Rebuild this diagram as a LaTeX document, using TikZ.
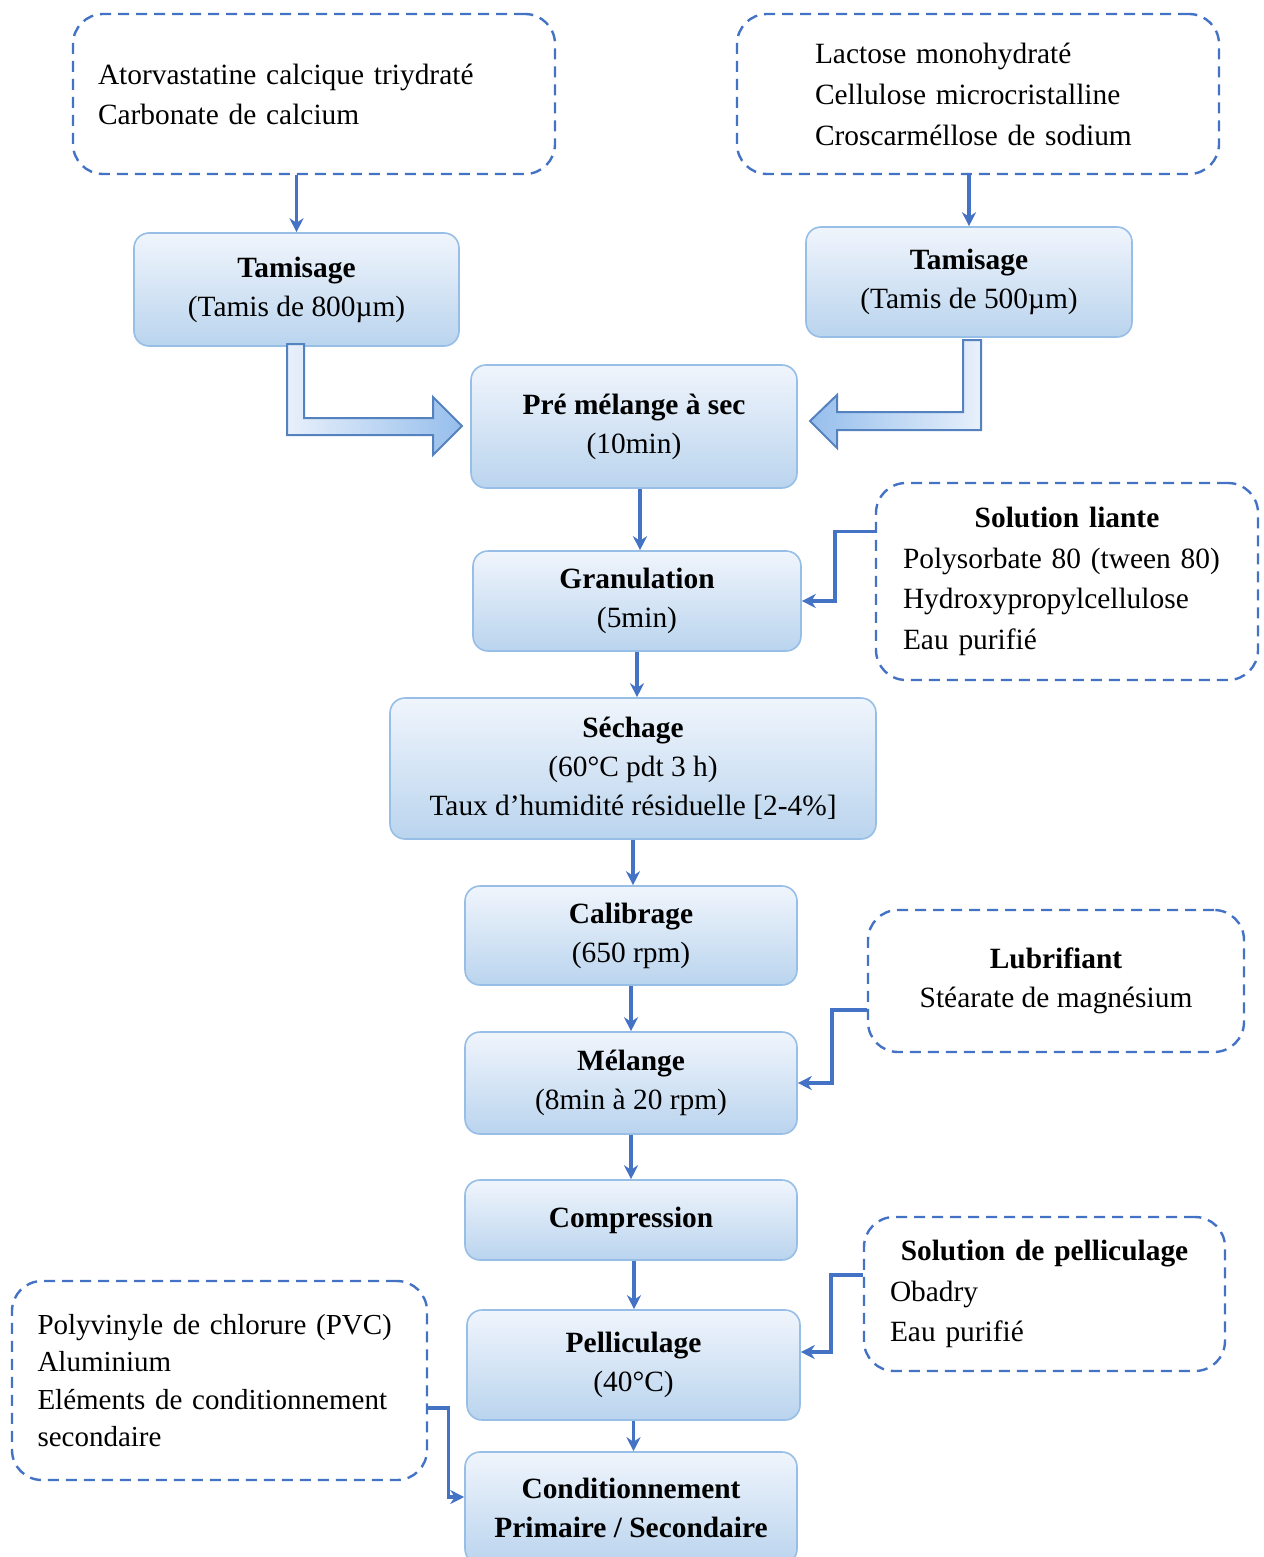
\documentclass[tikz,border=0pt]{standalone}
\usepackage{fontspec}
\setmainfont{Liberation Serif}
\usepackage{xcolor}
\usepackage{tikz}
\usetikzlibrary{arrows.meta,positioning,calc}
\definecolor{boxline}{RGB}{150,190,230}
\definecolor{boxtop}{RGB}{240,245,252}
\definecolor{boxbot}{RGB}{186,212,238}
\definecolor{dashblue}{RGB}{68,114,196}
\definecolor{fatline}{RGB}{84,130,190}
\definecolor{fatlight}{RGB}{232,240,251}
\definecolor{fatdark}{RGB}{150,190,236}
\tikzset{
  etape/.style ={draw=boxline, line width=0.8pt, rounded corners=7.5pt, top color=boxtop, bottom color=boxbot,
                 align=center, inner sep=2pt},
  entree/.style={draw=dashblue, line width=1.2pt, dash pattern=on 5.5pt off 3.5pt, rounded corners=15pt,
                 fill=white, inner ysep=2pt},
  flow/.style  ={-{Stealth[length=7pt,width=7pt]}, draw=dashblue, line width=1.7pt},
  fat/.style   ={draw=fatline, line width=1pt, left color=fatlight, right color=fatdark}
}
\newcommand{\titre}[1]{\makebox[\linewidth]{\textbf{#1}}}

\begin{document}
\begin{tikzpicture}[x=0.5pt, y=-0.5pt, font=\fontsize{14.7}{19.5}\selectfont]
  \useasboundingbox (0,0) rectangle (1263,1557);
  % matieres premieres
  \node[entree, minimum width=241pt, minimum height=80pt, inner xsep=12.5pt, text width=216pt, align=left,
        font=\fontsize{14.7}{20}\selectfont] (in1) at (314,94)
    {Atorvastatine calcique triydraté\\Carbonate de calcium};
  \node[entree, minimum width=241pt, minimum height=80pt, inner xsep=39pt, text width=163pt, align=left,
        font=\fontsize{14.7}{20.5}\selectfont] (in2) at (978,94)
    {Lactose monohydraté\\Cellulose microcristalline\\Croscarméllose de sodium};
  \node[etape, minimum width=162.5pt, minimum height=56.5pt] (tam1) at (296.5,289.5) {\textbf{Tamisage}\\(Tamis de 800µm)};
  \node[etape, minimum width=163pt, minimum height=55pt] (tam2) at (969,282) {\textbf{Tamisage}\\(Tamis de 500µm)};
  % etapes du procede
  \node[etape, minimum width=163pt, minimum height=61.5pt] (pre) at (634,426.5) {\textbf{Pré mélange à sec}\\(10min)};
  \node[etape, minimum width=164pt, minimum height=50pt] (gran) at (637,601) {\textbf{Granulation}\\(5min)};
  \node[etape, minimum width=243pt, minimum height=70.5pt] (sech) at (633,768.5)
    {\textbf{Séchage}\\(60°C pdt 3 h)\\Taux d’humidité résiduelle [2-4\%]};
  \node[etape, minimum width=166pt, minimum height=49.5pt] (calib) at (631,935.5) {\textbf{Calibrage}\\(650 rpm)};
  \node[etape, minimum width=166pt, minimum height=51pt] (mel) at (631,1083) {\textbf{Mélange}\\(8min à 20 rpm)};
  \node[etape, minimum width=166pt, minimum height=40pt] (comp) at (631,1220) {\textbf{Compression}};
  \node[etape, minimum width=166.5pt, minimum height=55pt] (pell) at (633.5,1365) {\textbf{Pelliculage}\\(40°C)};
  \node[etape, minimum width=166pt, minimum height=56pt] (cond) at (631,1508) {\textbf{Conditionnement}\\\textbf{Primaire / Secondaire}};
  % ajouts lateraux
  \node[entree, minimum width=191pt, minimum height=98.5pt, inner xsep=13.5pt, text width=164pt, align=left,
        font=\fontsize{14.7}{20.2}\selectfont] (liante) at (1067,581.5)
    {\titre{Solution liante}\\Polysorbate 80 (tween 80)\\Hydroxypropylcellulose\\Eau purifié};
  \node[entree, minimum width=188pt, minimum height=71pt, align=center] (lub) at (1056,981)
    {\textbf{Lubrifiant}\\Stéarate de magnésium};
  \node[entree, minimum width=180.5pt, minimum height=77pt, inner xsep=13pt, text width=154.5pt, align=left,
        font=\fontsize{14.7}{20.2}\selectfont] (pellsol) at (1044.5,1294)
    {\titre{Solution de pelliculage}\\Obadry\\Eau purifié};
  \node[entree, minimum width=207.5pt, minimum height=99.5pt, inner xsep=12.75pt, text width=182pt, align=left,
        font=\fontsize{14.5}{18.6}\selectfont] (emb) at (219.5,1380.5)
    {Polyvinyle de chlorure (PVC)\\Aluminium\\Eléments de conditionnement\\secondaire};
  % fleches epaisses vers le pre melange
  \path[fat] (287,344) -- (304,344) -- (304,418) -- (433,418) -- (433,397) -- (462,426)
    -- (433,455) -- (433,435) -- (287,435) -- cycle;
  \path[fat, left color=fatdark, right color=fatlight] (981,340) -- (963,340) -- (963,412) -- (837,412) -- (837,395)
    -- (810,421) -- (837,448) -- (837,430) -- (981,430) -- cycle;
  % fleches
  \draw[flow] (in1.south -| tam1.north) -- (tam1.north);
  \draw[flow] (in2.south -| tam2.north) -- (tam2.north);
  \draw[flow] ([xshift=3pt]pre.south) -- ([xshift=3pt]pre.south |- gran.north);
  \draw[flow] (gran.south) -- (gran.south |- sech.north);
  \draw[flow] (sech.south) -- (sech.south |- calib.north);
  \draw[flow] (calib.south) -- (calib.south |- mel.north);
  \draw[flow] (mel.south) -- (mel.south |- comp.north);
  \draw[flow] ([xshift=1.5pt]comp.south) -- ([xshift=1.5pt]comp.south |- pell.north);
  \draw[flow] (pell.south) -- (pell.south |- cond.north);
  \draw[flow] ([yshift=25pt]liante.west) -- ++(-20pt,0) |- (gran.east);
  \draw[flow] ([yshift=-14.5pt]lub.west) -- ++(-17.5pt,0) |- (mel.east);
  \draw[flow] ([yshift=9.5pt]pellsol.west) -- ++(-16pt,0) |- ([yshift=6.5pt]pell.east);
  \draw[flow] ([yshift=-13.75pt]emb.east) -- ++(10pt,0) |- ([yshift=5.5pt]cond.west);
\end{tikzpicture}
\end{document}
